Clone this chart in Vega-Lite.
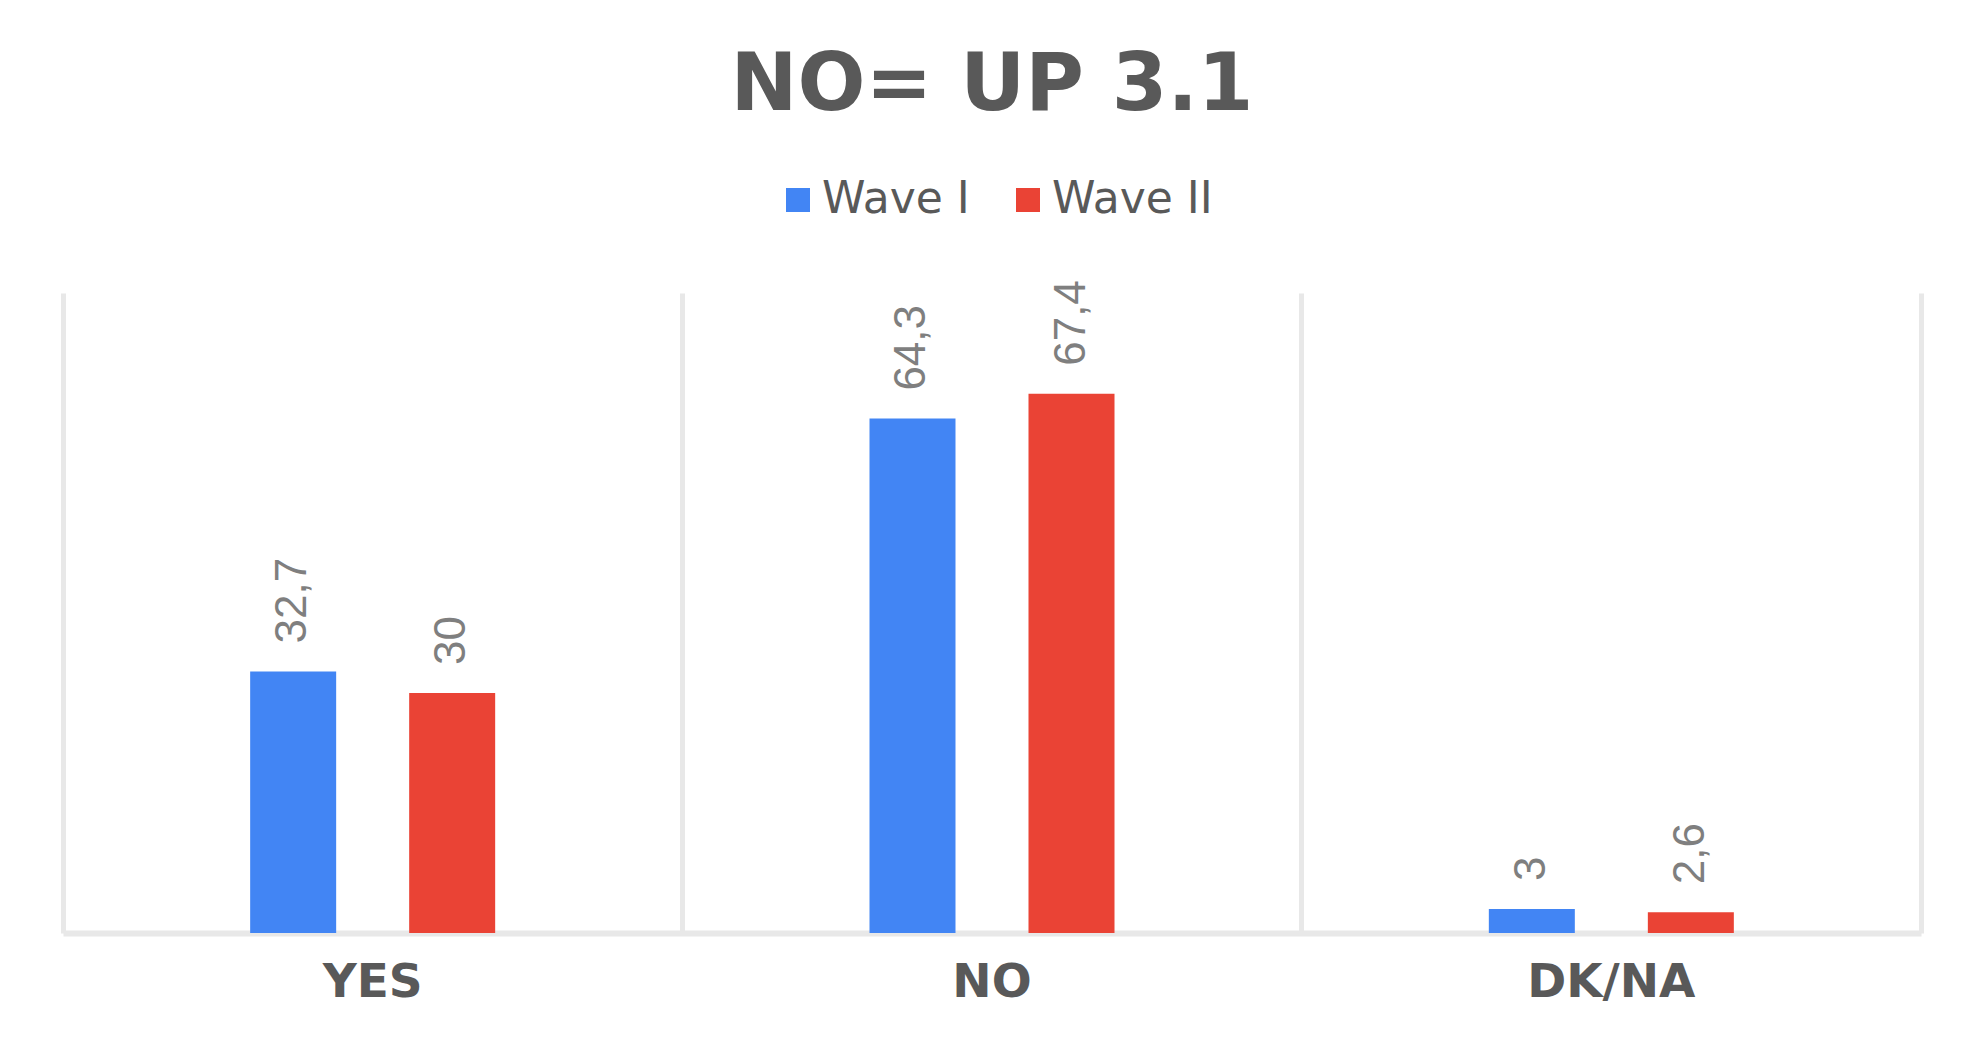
{
  "$schema": "https://vega.github.io/schema/vega-lite/v6.json",
  "autosize": {"type": "none"},
  "width": 1858,
  "height": 640,
  "padding": {"left": 63, "top": 293, "right": 61, "bottom": 111},
  "background": "white",
  "title": {
    "text": "NO= UP 3.1",
    "anchor": "middle",
    "fontSize": 80,
    "fontWeight": "bold",
    "font": "DejaVu Sans",
    "color": "#595959",
    "baseline": "alphabetic",
    "offset": 67,
    "dy": 79
  },
  "data": {
    "values": [
      {"answer": "YES", "wave": "Wave I", "value": 32.7, "label": "32,7"},
      {"answer": "YES", "wave": "Wave II", "value": 30, "label": "30"},
      {"answer": "NO", "wave": "Wave I", "value": 64.3, "label": "64,3"},
      {"answer": "NO", "wave": "Wave II", "value": 67.4, "label": "67,4"},
      {"answer": "DK/NA", "wave": "Wave I", "value": 3, "label": "3"},
      {"answer": "DK/NA", "wave": "Wave II", "value": 2.6, "label": "2,6"}
    ]
  },
  "encoding": {
    "x": {
      "field": "answer",
      "type": "nominal",
      "sort": ["YES", "NO", "DK/NA"],
      "scale": {"paddingInner": 0, "paddingOuter": 0},
      "axis": {
        "title": null,
        "labelAngle": 0,
        "labelFont": "DejaVu Sans",
        "labelFontSize": 47,
        "labelFontWeight": "bold",
        "labelColor": "#595959",
        "labelPadding": 26,
        "ticks": false,
        "tickSize": 0,
        "domainColor": "#e8e8e8",
        "domainWidth": 6,
        "grid": true,
        "gridColor": "#e8e8e8",
        "gridWidth": 5,
        "bandPosition": 0
      }
    },
    "xOffset": {
      "field": "wave",
      "type": "nominal",
      "sort": ["Wave I", "Wave II"],
      "scale": {"paddingInner": 0.105, "paddingOuter": 1}
    },
    "y": {
      "field": "value",
      "type": "quantitative",
      "scale": {"domain": [0, 80], "nice": false},
      "axis": {
        "orient": "right",
        "title": null,
        "labels": false,
        "ticks": false,
        "grid": false,
        "domainColor": "#e8e8e8",
        "domainWidth": 5
      }
    }
  },
  "layer": [
    {
      "mark": {"type": "bar", "width": 86},
      "encoding": {
        "color": {
          "field": "wave",
          "type": "nominal",
          "scale": {"domain": ["Wave I", "Wave II"], "range": ["#4285F4", "#EA4335"]},
          "legend": {
            "title": null,
            "orient": "none",
            "direction": "horizontal",
            "legendX": 713,
            "legendY": -115,
            "symbolType": "square",
            "symbolSize": 576,
            "symbolStrokeWidth": 0,
            "labelFont": "DejaVu Sans",
            "labelFontSize": 44,
            "labelColor": "#595959",
            "labelOffset": 2,
            "labelLimit": 400,
            "columnPadding": 36
          }
        }
      }
    },
    {
      "mark": {
        "type": "text",
        "angle": -90,
        "align": "left",
        "baseline": "middle",
        "dx": 28,
        "font": "Liberation Sans",
        "fontSize": 44,
        "color": "#7f7f7f"
      },
      "encoding": {
        "text": {"field": "label"}
      }
    }
  ],
  "config": {
    "view": {"stroke": null}
  }
}
